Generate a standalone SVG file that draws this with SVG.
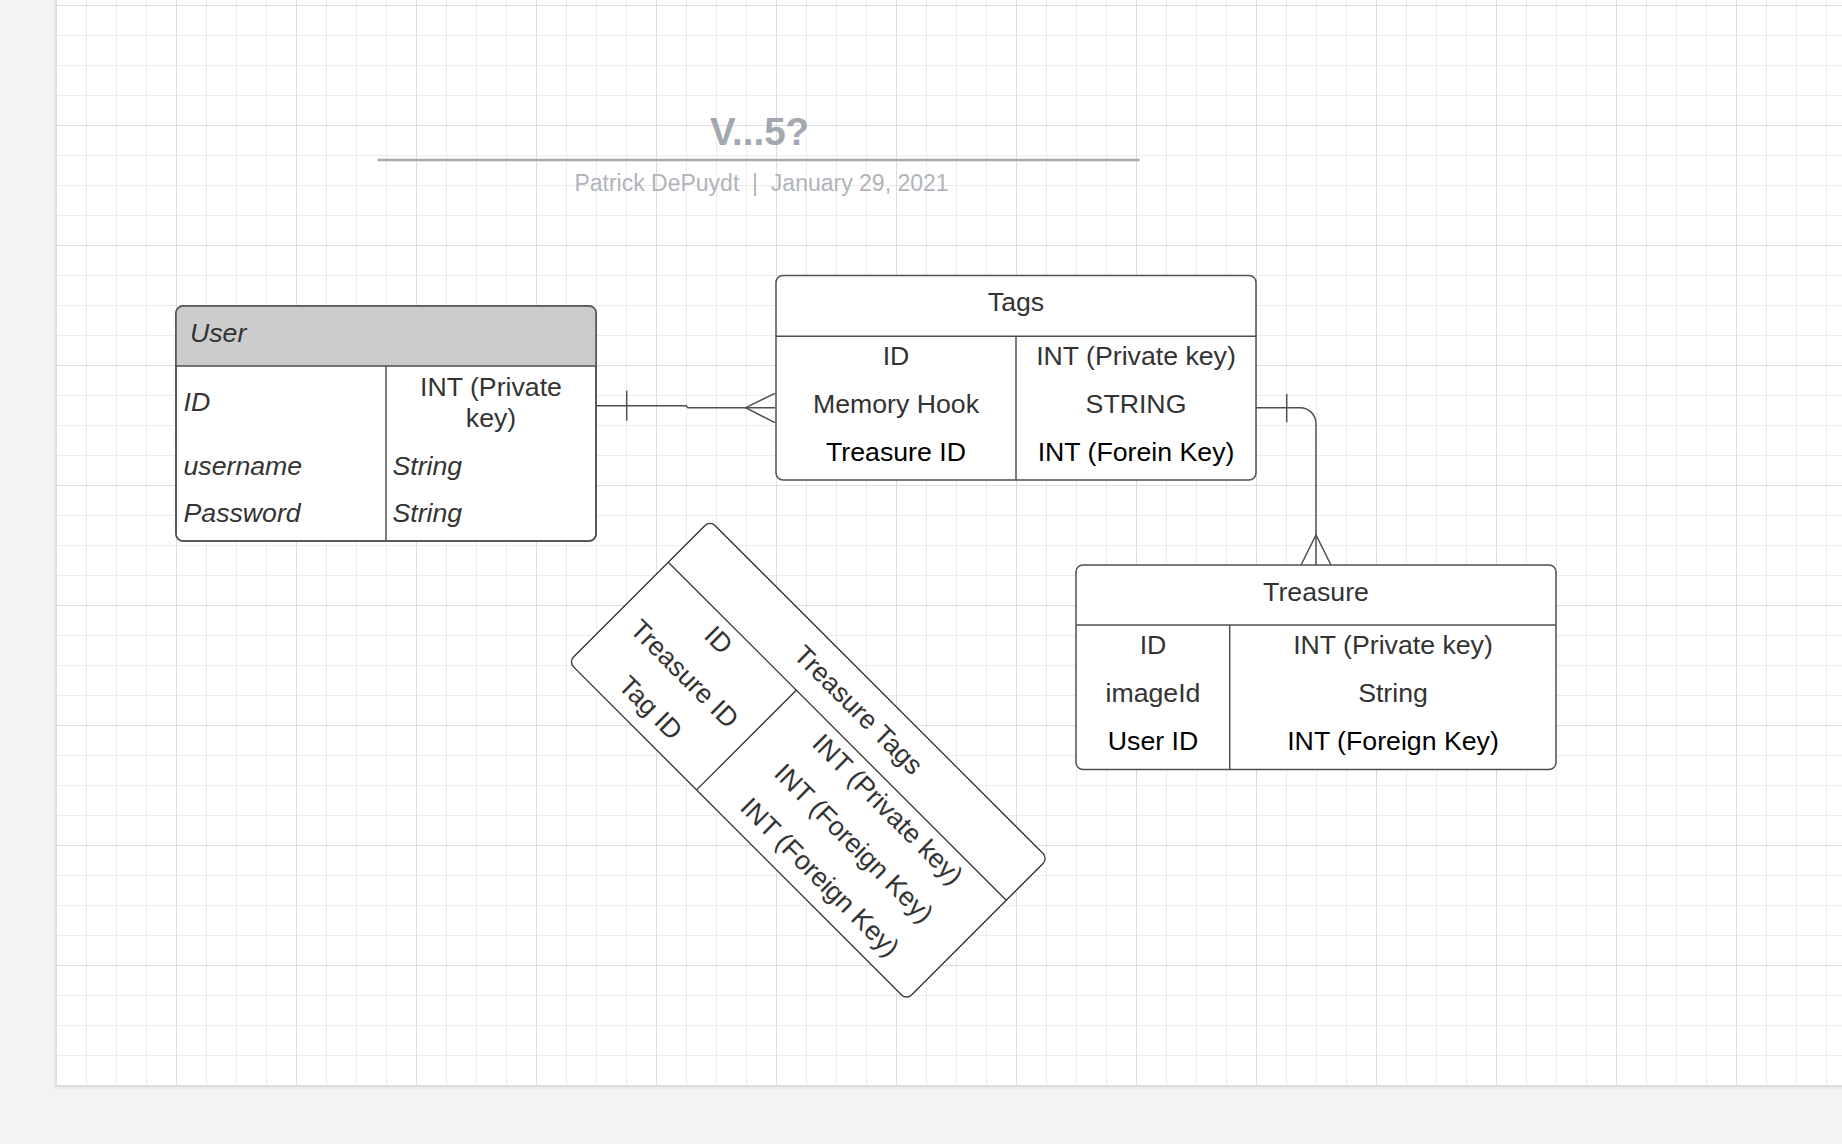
<svg xmlns="http://www.w3.org/2000/svg" width="1842" height="1144" viewBox="0 0 1842 1144">
<defs>
<pattern id="grid" x="56" y="5" width="120" height="120" patternUnits="userSpaceOnUse">
<path d="M30.5 0V120M60.5 0V120M90.5 0V120M0 30.5H120M0 60.5H120M0 90.5H120" stroke="#ececec" stroke-width="1" fill="none"/>
<path d="M0.5 0V120M0 0.5H120" stroke="#dddddd" stroke-width="1" fill="none"/>
</pattern>
<style>
.box{fill:#fff;stroke:#4f4f4f;stroke-width:1.5}
.ln{stroke:#4f4f4f;stroke-width:1.5;fill:none}
.rl{stroke:#333;stroke-width:1.3;fill:none}
.t{font-family:"Liberation Sans",Arial,sans-serif;font-size:26.7px;fill:#333}
.c{text-anchor:middle}
.i{font-style:italic}
.k{fill:#000}
</style>
</defs>
<g id="page">
<rect width="1842" height="1144" fill="#f2f3f5"/>
<rect x="55.5" y="0" width="1787" height="1086" fill="#fff"/>
<rect x="55.5" y="0" width="1787" height="1086" fill="url(#grid)"/>
<path d="M55 0V1086.5H1842" stroke="#dcdde1" stroke-width="1.5" fill="none"/>
<path d="M55 1088H1842" stroke="#e8e9ec" stroke-width="2" fill="none"/>
</g>
<g id="title">
<text x="759.5" y="145" text-anchor="middle" font-family="Liberation Sans, Arial, sans-serif" font-size="38.5" font-weight="bold" fill="#a3a7af">V...5?</text>
<path d="M377.7 160H1139.5" stroke="#a6aab1" stroke-width="2.5"/>
<text x="761.5" y="190.7" text-anchor="middle" font-family="Liberation Sans, Arial, sans-serif" font-size="23" fill="#b0b4ba" xml:space="preserve">Patrick DePuydt  |  January 29, 2021</text>
</g>
<g id="connectors">
<path class="ln" d="M596 405.7H686L688 407.7H775"/>
<path class="ln" d="M626.7 390.7V420.7"/>
<path class="ln" d="M775 393.3L745.7 407.7L775 422.7"/>
<path class="ln" d="M1256 407.7H1300A16 16 0 0 1 1316 423.7V565"/>
<path class="ln" d="M1286.7 394V422.3"/>
<path class="ln" d="M1301 565L1316 535L1331 565"/>
</g>
<g id="user">
<rect class="box" x="176" y="306" width="420" height="235" rx="7"/>
<path d="M176 366V313A7 7 0 0 1 183 306H589A7 7 0 0 1 596 313V366Z" fill="#cccccc"/>
<rect x="176" y="306" width="420" height="235" rx="7" fill="none" stroke="#4f4f4f" stroke-width="1.5"/>
<path class="ln" d="M176 366H596M386 366V541"/>
<text class="t i" x="190" y="342">User</text>
<text class="t i" x="183.5" y="411">ID</text>
<text class="t c" x="491" y="395.5">INT (Private</text>
<text class="t c" x="491" y="426.5">key)</text>
<text class="t i" x="183.5" y="474.5">username</text>
<text class="t i" x="392.5" y="474.5">String</text>
<text class="t i" x="183.5" y="522">Password</text>
<text class="t i" x="392.5" y="522">String</text>
</g>
<g id="tags">
<rect class="box" x="776" y="275.5" width="480" height="204.5" rx="7"/>
<path class="ln" d="M776 336.3H1256M1016 336.3V480"/>
<text class="t c" x="1016" y="311.3">Tags</text>
<text class="t c" x="896" y="365.3">ID</text>
<text class="t c" x="1136" y="365.3">INT (Private key)</text>
<text class="t c" x="896" y="413">Memory Hook</text>
<text class="t c" x="1136" y="413">STRING</text>
<text class="t c k" x="896" y="460.7">Treasure ID</text>
<text class="t c k" x="1136" y="460.7">INT (Forein Key)</text>
</g>
<g id="treasure">
<rect class="box" x="1076" y="565" width="480" height="204.5" rx="7"/>
<path class="ln" d="M1076 625H1556M1229.7 625V769.5"/>
<text class="t c" x="1316" y="601">Treasure</text>
<text class="t c" x="1153" y="654.3">ID</text>
<text class="t c" x="1393" y="654.3">INT (Private key)</text>
<text class="t c" x="1153" y="702.3">imageId</text>
<text class="t c" x="1393" y="702.3">String</text>
<text class="t c k" x="1153" y="750">User ID</text>
<text class="t c k" x="1393" y="750">INT (Foreign Key)</text>
</g>
<g id="treasure-tags" transform="translate(710,520.5) rotate(45)">
<rect x="0" y="0" width="478" height="200" rx="7" fill="#fff" stroke="#333" stroke-width="1.3"/>
<path class="rl" d="M0 59H478M181 59V200"/>
<text class="t c" x="239" y="38">Treasure Tags</text>
<text class="t c" x="90.5" y="87.5">ID</text>
<text class="t c" x="330" y="87.5">INT (Private key)</text>
<text class="t c" x="90.5" y="135.5">Treasure ID</text>
<text class="t c" x="330" y="135.5">INT (Foreign Key)</text>
<text class="t c" x="90.5" y="183.5">Tag ID</text>
<text class="t c" x="330" y="183.5">INT (Foreign Key)</text>
</g>
</svg>
